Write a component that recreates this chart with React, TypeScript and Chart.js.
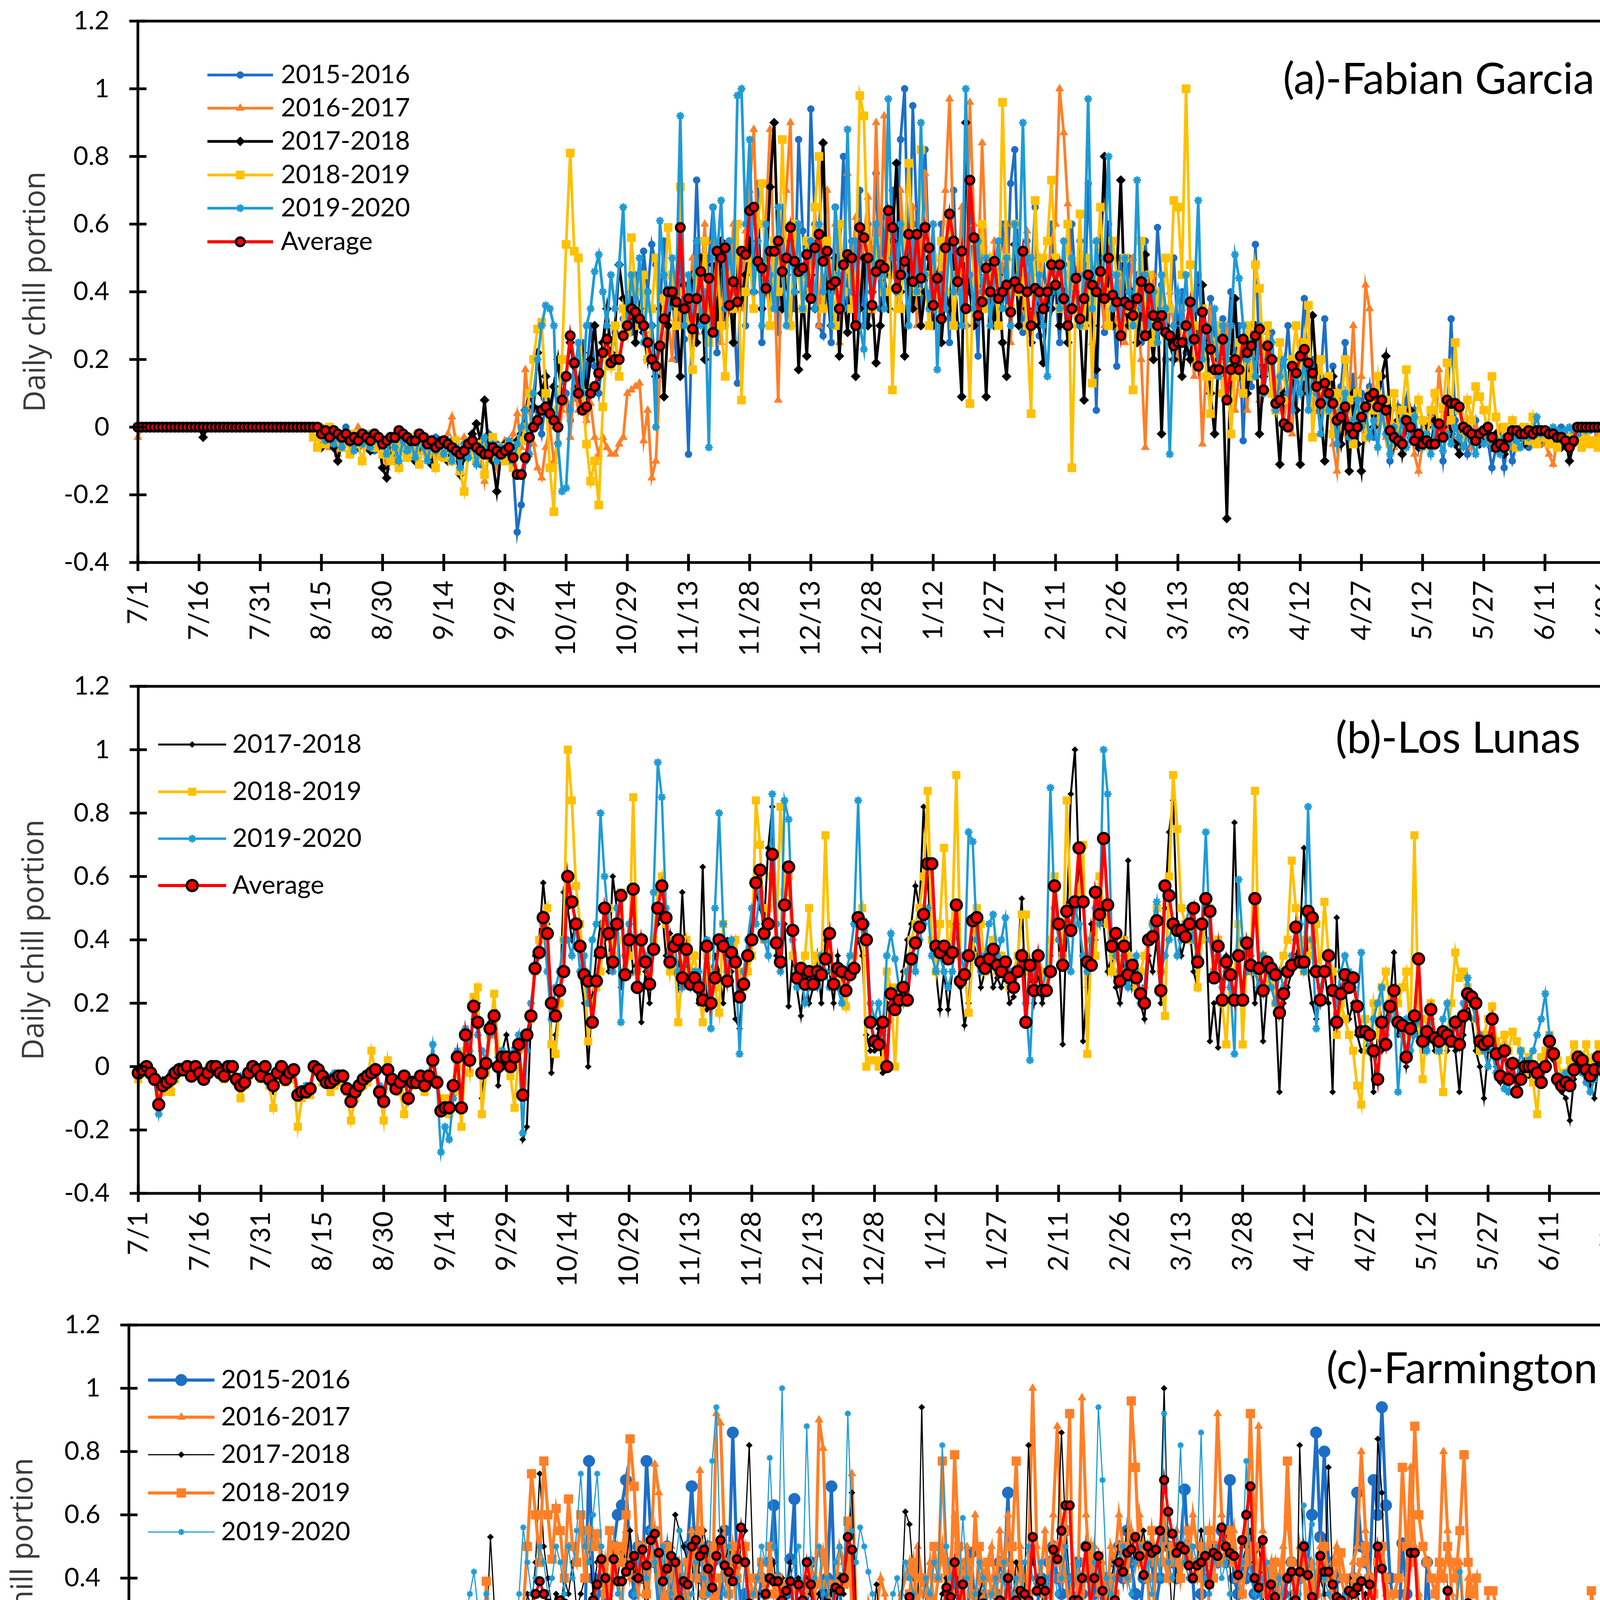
import React, { useEffect, useRef } from "react";
import { Chart, registerables } from "chart.js";
import { drawPoint } from "chart.js/helpers";

Chart.register(...registerables);

const X_TICK_VALUES = [0, 15, 30, 45, 60, 75, 90, 105, 120, 135, 150, 165, 180, 195, 210, 225, 240, 255, 270, 285, 300, 315, 330, 345, 360];
const X_TICK_LABELS = ["7/1", "7/16", "7/31", "8/15", "8/30", "9/14", "9/29", "10/14", "10/29", "11/13", "11/28", "12/13", "12/28", "1/12", "1/27", "2/11", "2/26", "3/13", "3/28", "4/12", "4/27", "5/12", "5/27", "6/11", "6/26"];
const Y_TICK_VALUES = [-0.4, -0.2, 0, 0.2, 0.4, 0.6, 0.8, 1, 1.2];

// ---------- (a) Fabian Garcia ----------
const FG_2015 = [
0,0,0,0,0,0,0,0,0,0,0,0,0,0,0, 0,0,0,0,0,0,0,0,0,0,0,0,0,0,0, 0,0,0,0,0,0,0,0,0,0,0,0,0,0,0,
0,-.02,0,-.03,-.05,-.02,0,-.04,-.06,-.03,-.05,-.02,-.04,-.07,-.03,
-.05,-.08,-.04,-.1,-.06,-.03,-.08,-.05,-.1,-.07,-.04,-.09,-.06,-.03,-.08,
-.06,-.1,-.04,-.08,-.12,-.05,-.09,-.03,-.07,-.11,-.06,-.02,-.08,-.05,-.1,
-.06,-.09,-.12,-.31,-.23,-.1,-.05,0,.05,-.02,.08,.02,.12,.05,.15,
.1,.02,.2,.08,.25,.15,.3,.18,.1,.22,.35,.2,.28,.15,.32,
.38,.28,.45,.3,.52,.4,.54,.48,.35,.55,.3,.42,.2,.5,.26,
-.08,.35,.73,.4,.28,.5,.65,.22,.45,.3,.55,.38,.13,.48,.3,
.6,.4,.72,.25,.5,.38,.55,.28,.65,.45,.6,.35,.85,.58,.4,
.94,.6,.3,.27,.45,.25,.65,.5,.8,.35,.55,.42,.7,.3,.6,
.5,.75,.35,.62,.45,.7,.5,.85,1,.4,.95,.6,.3,.82,.5,
.45,.35,.6,.48,.25,.7,.4,.55,.3,.65,.45,.21,.58,.38,.5,
.3,.45,.6,.35,.72,.82,.4,.28,.55,.42,.65,.27,.5,.35,.6,
.4,.25,.48,.35,.6,.4,.55,.3,.72,.45,.05,.5,.28,.6,.4,
.18,.5,.35,.5,.3,.45,.25,.55,.38,.3,.59,.42,.2,.35,.5,
.28,.4,.22,.35,.25,.45,.3,.2,.38,.28,.15,.32,.22,.4,.18,
.3,-.04,.25,.12,.54,.2,.1,.18,.28,.08,.2,.15,.3,.12,.05,
.2,.38,.1,.2,.05,.15,.32,.08,.18,-.02,.12,.25,.05,.15,-.05,
.1,.05,.12,-.03,.08,.15,.02,-.1,-.05,.06,0,.08,-.03,.05,-.06,
.02,-.02,.04,-.05,0,-.1,.03,.32,.02,-.04,0,-.08,-.03,.02,-.05,
-.02,-.04,-.12,-.06,-.02,-.12,-.03,-.1,-.05,-.02,-.04,-.06,-.03,-.02,-.05,
-.03,-.01,-.04,-.02,0,-.05,-.03,-.01,-.02,0,-.03,-.01,0,-.02,0,
0,0,0,0,0];

const FG_2016 = [
-.03,0,0,0,0,0,0,0,0,0,0,0,0,0,0, 0,0,0,0,0,0,0,0,0,0,0,0,0,0,0, 0,0,0,0,0,0,0,0,0,0,0,0,0,0,0,
0,-.03,-.06,-.02,-.08,-.04,-.02,-.05,-.03,0,-.04,-.06,-.02,-.05,-.03,
-.07,-.12,-.04,-.02,-.06,-.03,-.08,-.05,-.02,-.04,-.07,-.03,-.05,-.09,-.04,
-.06,-.02,.03,-.05,-.08,-.03,-.07,-.04,-.09,-.05,-.16,-.08,-.05,-.12,-.06,
-.04,-.08,-.02,.04,-.06,.17,.05,-.05,-.12,-.15,-.06,0,-.1,-.04,.05,
.08,-.03,.12,.05,.1,.02,.07,-.03,-.08,-.03,-.06,-.08,-.08,-.05,-.03,
.1,.11,.12,.13,-.04,.05,-.15,-.1,.15,.25,.32,.2,.45,.3,.4,
.35,.5,.28,.42,.6,.3,.55,.45,.25,.5,.38,.6,.45,.35,.58,
.7,.88,.5,.4,.62,.88,.45,.08,.55,.7,.9,.4,.6,.35,.55,
.45,.65,.3,.55,.7,.4,.6,.25,.5,.75,.45,.62,.35,.55,.68,
.4,.9,.5,.92,.45,.6,.35,.7,.5,.4,.65,.3,.55,.75,.45,
.6,.35,.5,.7,.97,.55,.4,.65,.3,.96,.6,.45,.84,.5,.35,
.55,.3,.48,.6,.25,.5,.4,.35,.58,.45,.3,.5,.38,.42,.55,
.6,1,.87,.66,.4,.3,.5,.35,.45,.25,.55,.4,.3,.5,.35,
.3,.45,.25,.4,.5,.35,.2,-.06,.3,.45,.28,.35,.2,.4,.3,
.2,.35,.25,.3,.15,.28,-.05,.2,.35,.15,.25,.1,.3,.2,.05,
.15,.25,.05,.3,.2,.08,.18,.28,.1,.05,.15,.02,.1,-.02,.2,
.25,.1,.15,.05,.2,-.02,.08,.12,-.05,-.13,.05,-.02,.1,.3,.05,
.15,.42,.35,.1,0,.08,-.03,.05,-.06,.02,-.04,0,.05,-.08,-.13,
-.05,0,.03,-.04,.17,.05,-.02,.03,-.05,0,-.03,.02,-.06,0,-.02,
-.04,-.01,-.05,-.03,0,-.04,-.02,-.06,-.03,0,-.02,-.04,-.01,-.03,-.02,
-.05,-.08,-.11,-.04,-.02,-.06,-.03,0,-.02,0,-.01,0,0,-.02,0,
0,0,0,0,0];

const FG_2017 = [
0,0,0,0,0,0,0,0,0,0,0,0,0,0,0, 0,-.03,0,0,0,0,0,0,0,0,0,0,0,0,0, 0,0,0,0,0,0,0,0,0,0,0,0,0,0,0,
-.06,-.02,-.03,-.06,-.1,-.04,-.02,-.05,-.03,-.06,-.04,-.03,-.07,-.05,-.04,
-.12,-.15,-.06,-.04,-.03,-.05,-.07,-.04,-.1,-.06,-.03,-.08,-.11,-.05,-.04,
-.07,-.1,-.06,-.08,-.14,-.09,-.05,-.02,.01,-.04,.08,-.06,-.1,-.19,-.08,
-.05,-.1,-.07,-.04,-.02,.05,.1,.06,.22,.1,.15,.05,.12,.2,.08,
.15,.25,.18,.12,.22,.1,.2,.3,.15,.25,.35,.22,.3,.48,.38,
.32,.4,.25,.35,.28,.2,.3,.15,.35,.09,.3,.4,.35,.15,.42,
.3,.45,.25,.5,.2,.4,.48,.3,.55,.35,.42,.25,.5,.38,.45,
.55,.4,.6,.35,.45,.71,.9,.5,.35,.45,.3,.5,.17,.4,.21,
.45,.35,.55,.84,.4,.3,.5,.21,.4,.28,.45,.15,.35,.5,.3,
.4,.19,.3,.45,.35,.55,.78,.4,.21,.5,.35,.45,.3,.4,.5,
.3,.45,.25,.4,.35,.5,.3,.09,.9,.4,.3,.45,.35,.09,.4,
.3,.45,.25,.15,.35,.54,.3,.45,.35,.25,.4,.3,.19,.4,.35,
.45,.3,.4,.25,.35,.45,.3,.08,.4,.3,.17,.5,.8,.4,.3,
.45,.73,.35,.3,.4,.25,.35,.51,.3,.2,.35,-.02,.3,.25,.2,
.3,.15,.25,.2,.35,.2,.42,.25,.1,-.02,.2,.15,-.27,.2,.38,
.15,.25,.1,.2,.3,-.02,.15,.25,.1,.05,-.11,.1,.15,.2,.05,
-.11,.2,.1,.33,.15,.05,-.1,.08,.15,.02,-.05,.05,-.13,.1,-.05,
-.13,.05,.1,0,.08,.15,.21,.05,-.05,.02,-.08,0,.05,-.03,-.06,
-.04,0,-.06,.02,-.03,0,.05,-.02,-.05,-.08,-.02,0,-.04,-.02,-.05,
-.03,0,-.06,-.02,-.04,-.08,-.03,-.01,-.04,-.02,-.05,-.03,-.01,-.04,-.02,
-.03,-.05,-.02,-.04,-.06,-.03,-.1,-.05,-.02,0,-.01,0,0,0,0,
0,0,0,0,0];

const FG_2018 = [
0,0,0,0,0,0,0,0,0,0,0,0,0,0,0, 0,0,0,0,0,0,0,0,0,0,0,0,0,0,0, 0,0,0,0,0,0,0,0,0,0,0,0,0,-.03,-.06,
-.03,-.05,0,-.02,-.04,-.06,-.03,-.08,-.02,-.05,-.1,-.04,-.02,-.06,-.03,
-.08,-.04,-.1,-.06,-.12,-.05,-.09,-.03,-.07,-.11,-.05,-.08,-.04,-.12,-.06,
-.09,-.05,-.1,-.04,-.13,-.19,-.08,-.06,-.1,-.05,-.14,-.07,-.03,-.09,-.06,
-.1,-.05,-.12,-.08,-.04,0,.1,.2,.29,.31,.1,-.12,-.25,.05,.2,
.54,.81,.52,.5,.1,-.05,-.16,-.1,-.23,.06,.25,.18,.3,.15,.35,
.28,.56,.4,.3,.45,.2,.35,.5,.25,.38,.59,.45,.3,.71,.4,
.3,.17,.45,.35,.55,.25,.4,.5,.3,.15,.45,.35,.6,.08,.4,
.5,.35,.6,.72,.45,.3,.55,.4,.85,.5,.3,.6,.45,.35,.55,
.4,.65,.8,.35,.55,.45,.3,.6,.4,.5,.35,.45,.98,.92,.5,
.35,.55,.45,.4,.6,.11,.45,.35,.55,.78,.5,.4,.82,.45,.3,
.5,.35,.55,.4,.6,.3,.45,.5,.35,.07,.55,.4,.6,.35,.5,
.45,.3,.96,.5,.35,.6,.4,.45,.3,.04,.67,.4,.5,.55,.73,
.5,.35,.45,.6,-.12,.4,.63,.3,.5,.13,.45,.65,.4,.3,.55,
.45,.3,.5,.35,.11,.4,.55,.3,.45,.25,.4,.3,.5,.35,.67,
.65,.45,1,.48,.3,.2,.35,.15,.04,.25,.3,.1,.2,-.02,.15,
.25,.1,.3,.15,.48,.41,.2,.3,.1,.05,.25,.15,.08,.2,.3,
.15,.25,.36,-.03,.1,.2,.05,.15,-.02,.1,.05,.2,.08,-.05,.1,
.05,-.03,.1,.05,.15,.02,.08,-.05,.1,0,.05,.17,.03,-.04,.08,
.02,-.05,.05,.1,-.02,.06,.19,.02,.25,.05,-.03,.08,.02,.12,.09,
.05,-.02,.15,.03,-.05,0,-.03,.02,-.06,-.02,0,-.04,.03,-.05,-.02,
-.03,-.05,-.02,-.06,-.04,-.03,-.05,-.02,-.04,-.06,-.03,-.05,-.04,-.06,-.03,
-.02,-.04,-.02,-.03,-.02];

const FG_2019 = [
0,0,0,0,0,0,0,0,0,0,0,0,0,0,0, 0,0,0,0,0,0,0,0,0,0,0,0,0,0,0, 0,0,0,0,0,0,0,0,0,0,0,0,0,0,0,
-.02,-.04,-.01,-.05,-.03,-.06,-.02,-.04,-.07,-.03,-.05,-.02,-.06,-.04,-.03,
-.05,-.08,-.03,-.06,-.1,-.04,-.07,-.05,-.09,-.03,-.06,-.1,-.04,-.07,-.05,
-.08,-.04,-.1,-.06,-.12,-.05,-.09,-.04,-.11,-.06,-.03,-.08,-.05,-.1,-.06,
-.08,-.04,-.1,-.05,0,.05,-.08,.1,.2,.3,.36,.35,.3,-.05,-.19,
-.18,.05,.15,.25,.1,.3,.35,.46,.51,.4,.3,.45,.35,.48,.65,
.3,.45,.35,.5,.25,.4,.3,0,.61,.45,.35,.5,.4,.92,.3,
.45,.35,.55,.3,.4,-.06,.65,.5,.67,.35,.55,.4,.98,1,.6,
.85,.4,.55,.3,.6,.45,.35,.65,.5,.3,.55,.4,.6,.35,.45,
.55,.35,.6,.4,.5,.3,.65,.45,.35,.88,.4,.55,.3,.23,.5,
.4,.6,.45,.35,.97,.5,.4,.6,.45,.3,.55,.4,.9,.45,.35,
.6,.17,.45,.35,.55,.4,.5,.3,1,.45,.35,.55,.4,.5,.3,
.45,.55,.35,.5,.3,.6,.45,.9,.4,.5,.35,.45,.3,.15,.4,
.45,.35,.55,.3,.5,.4,.3,.45,.97,.35,.55,.4,.5,.8,.35,
.45,.3,.5,.4,.3,.73,.35,.45,.3,.4,.25,.45,.35,-.08,.3,
.4,.3,.45,.25,.35,.67,.2,.3,.25,.35,.15,.3,.2,.3,.51,
.44,.3,.2,.25,.15,.3,.1,.2,.25,.05,.15,.2,.1,.05,.15,
.1,.2,.05,.15,.1,-.02,.12,.05,.08,-.05,.05,.1,-.03,.02,.08,
0,.05,-.03,.02,-.06,.05,-.02,-.08,0,-.04,.02,-.06,-.02,.03,-.04,
-.06,-.02,-.08,0,-.04,-.07,-.02,-.05,0,-.03,-.06,-.02,-.04,-.08,-.03,
-.05,-.02,-.06,-.04,-.08,-.03,-.05,-.01,-.04,-.06,-.02,-.03,-.01,.03,-.02,
-.01,-.02,0,-.01,-.02,-.01,0,-.01,-.02,0,-.01,0,0,0,0,
0,0,0,0,0];

const FG_AVG = [
0,0,0,0,0,0,0,0,0,0,0,0,0,0,0, 0,0,0,0,0,0,0,0,0,0,0,0,0,0,0, 0,0,0,0,0,0,0,0,0,0,0,0,0,0,0,
-.02,-.01,-.03,-.01,-.02,-.03,-.02,-.04,-.03,-.04,-.02,-.03,-.04,-.02,-.03,
-.05,-.04,-.03,-.03,-.01,-.02,-.03,-.04,-.04,-.02,-.03,-.05,-.04,-.06,-.05,
-.04,-.05,-.06,-.07,-.08,-.07,-.05,-.04,-.06,-.07,-.08,-.08,-.06,-.07,-.08,
-.07,-.06,-.09,-.14,-.14,-.09,-.03,0,.02,.05,.06,.04,.02,0,.08,
.15,.27,.19,.1,.05,.06,.1,.12,.16,.22,.26,.19,.2,.2,.27,
.3,.35,.34,.32,.3,.25,.2,.18,.24,.32,.4,.4,.37,.59,.35,
.38,.29,.38,.46,.32,.44,.28,.52,.5,.53,.36,.43,.37,.52,.51,
.64,.65,.49,.47,.41,.52,.52,.55,.46,.5,.59,.49,.46,.47,.51,
.38,.53,.57,.49,.52,.42,.43,.35,.48,.51,.5,.3,.59,.56,.5,
.36,.46,.48,.47,.64,.59,.41,.45,.49,.57,.43,.57,.44,.59,.53,
.36,.44,.32,.53,.63,.55,.43,.52,.35,.73,.56,.33,.37,.47,.4,
.49,.38,.4,.42,.34,.43,.41,.52,.4,.3,.41,.4,.35,.4,.48,
.42,.48,.38,.3,.35,.44,.32,.38,.45,.42,.4,.46,.38,.5,.39,
.37,.27,.37,.36,.33,.38,.43,.27,.41,.33,.3,.33,.28,.27,.24,
.25,.25,.3,.37,.26,.18,.34,.29,.23,.17,.17,.26,.08,.17,.2,
.17,.26,.22,.24,.27,.29,.11,.24,.2,.07,.08,.01,0,.18,.16,
.21,.23,.19,.16,.12,.07,.13,.1,.07,.02,.03,.06,0,-.02,0,
.03,.06,.09,.1,.06,.08,.05,-.01,-.03,-.04,-.05,.02,0,-.04,-.02,
-.05,-.04,-.05,-.05,.01,-.03,.08,.07,.07,.06,0,-.01,-.02,-.04,-.02,
-.01,0,-.03,-.06,-.05,-.06,-.03,-.01,-.01,-.02,-.02,-.01,-.02,-.01,-.01,
-.01,-.02,-.02,-.03,-.03,-.04,-.06,-.04,0,0,0,0,0,0,0,
0,0,0,0,0];

// ---------- (b) Los Lunas ----------
const LL_2017 = [
-.03,-.01,0,-.02,-.05,-.1,-.04,-.06,-.03,-.01,0,-.02,0,-.04,0,
-.01,-.05,-.02,0,-.01,-.03,-.04,0,0,-.05,-.07,-.04,-.02,0,0,
-.04,0,-.05,-.08,-.03,0,-.05,-.02,0,-.1,-.08,-.09,-.06,0,0,
-.04,-.06,-.04,-.05,-.02,-.04,-.08,-.1,-.06,-.07,-.03,-.02,-.03,0,-.1,
-.1,0,-.05,-.08,-.04,-.02,-.11,-.04,-.06,-.02,-.05,-.04,.03,-.06,-.1,
-.12,-.1,-.05,.05,-.1,.12,.05,.15,.2,-.1,.02,.14,.18,-.06,.05,
.1,.02,.06,.08,-.23,-.19,.15,.35,.4,.58,.45,-.02,.1,.2,.55,
.5,.4,.45,.3,.2,0,.22,.35,.45,.4,.3,.6,.5,.25,.35,
.45,.3,.35,.14,.3,.2,.4,.45,.5,.35,.42,.3,.25,.55,.3,
.25,.3,.2,.63,.18,.3,.35,.3,.2,.4,.3,.15,.12,.3,.35,
.45,.55,.5,.45,.69,.82,.35,.3,.45,.19,.35,.25,.16,.3,.2,
.25,.35,.2,.4,.3,.2,.35,.25,.2,.3,.35,.4,.35,.1,.05,
.05,.12,-.02,.2,.15,.25,.22,.3,.4,.45,.57,.5,.82,.6,.35,
.3,.18,.3,.18,.3,.45,.25,.13,.2,.4,.35,.25,.3,.35,.25,
.28,.25,.3,.2,.22,.35,.53,.2,.3,.2,.3,.2,.25,.35,.5,
.4,.07,.45,.86,1,.6,.08,.25,.45,.4,.6,.45,.3,.35,.25,
.2,.3,.65,.25,.3,.2,.15,.35,.3,.4,.2,.5,.74,.84,.45,
.35,.4,.45,.3,.25,.4,.45,.08,.2,.06,.25,.35,.3,.77,.3,
.25,.3,.4,.2,.3,.08,.25,.3,.2,-.08,.2,.25,.3,.35,.4,
.69,.3,.2,.15,.25,.3,.2,-.08,.47,.2,.25,.15,.2,.1,.05,
.05,.1,-.08,.1,.05,.15,.2,.36,.1,.12,0,.1,.15,.08,.05,
.05,.1,.05,.08,.1,.05,.1,.05,-.08,.1,.2,.15,.05,0,-.1,
.05,.1,0,-.05,.05,-.04,0,-.05,-.02,.02,-.03,0,-.05,-.03,.02,
.05,.02,-.06,-.08,-.1,-.17,-.04,0,.02,-.02,-.06,-.1,0,-.03,-.06,
-.05,-.03,-.02,.01,-.04];

const LL_2018 = [
-.04,-.02,0,-.03,-.04,-.08,-.08,-.05,-.08,-.04,-.02,0,0,-.03,0,
-.03,-.04,-.01,0,0,-.02,-.04,0,-.02,-.05,-.1,-.06,-.03,0,-.02,
-.04,0,-.06,-.13,-.04,0,-.05,-.04,-.02,-.19,-.1,-.08,-.09,0,-.02,
-.05,-.04,-.08,-.06,-.04,-.05,-.08,-.17,-.1,-.07,-.06,-.05,.05,-.02,-.08,
-.17,.02,-.05,-.06,-.08,-.15,-.1,-.06,-.04,-.05,-.08,-.05,.02,-.04,-.12,
-.1,-.15,-.08,0,-.19,.05,-.02,.22,.25,-.15,-.02,.1,.23,.05,.02,
0,-.03,-.13,.05,-.05,.1,.15,.3,.4,.45,.5,.07,.04,.2,.4,
1,.84,.57,.45,.3,.08,.2,.25,.3,.45,.5,.35,.4,.55,.3,
.35,.85,.3,.4,.35,.3,.4,.55,.6,.45,.3,.4,.14,.3,.4,
.3,.35,.25,.14,.35,.3,.25,.17,.45,.3,.35,.4,.3,.25,.3,
.35,.84,.7,.4,.5,.6,.4,.82,.55,.6,.35,.3,.3,.35,.5,
.3,.35,.3,.73,.35,.3,.3,.25,.19,.3,.35,.45,.5,0,.02,
.02,0,.02,.3,.25,0,.25,.2,.3,.4,.45,.5,.6,.87,.4,
.3,.45,.69,.35,.45,.92,.35,.3,.17,.35,.5,.45,.3,.35,.4,
.3,.35,.3,.25,.3,.35,.48,.48,.3,.25,.35,.3,.25,.4,.6,
.45,.35,.84,.5,.45,.55,.7,.04,.4,.35,.6,.5,.45,.3,.35,
.3,.4,.35,.3,.25,.3,.35,.4,.45,.5,.3,.16,.6,.92,.75,
.5,.45,.4,.5,.25,.4,.45,.5,.3,.4,.2,.07,.3,.3,.45,
.07,.35,.3,.87,.3,.35,.25,.3,.2,.3,.35,.4,.65,.5,.4,
.3,.35,.4,.45,.3,.52,.35,.3,.1,.2,.15,.1,.05,-.06,-.12,
.15,.05,.2,.1,.25,.3,.2,.15,.2,.25,.3,.1,.73,.15,-.04,
.15,.2,.1,.05,-.08,.1,.2,.36,.28,.3,.25,.2,.15,.05,.1,
.15,.19,.08,.05,.1,.05,.11,.08,.05,-.02,.03,-.05,-.15,.03,.05,
.1,.05,.02,-.03,-.02,.02,.07,.04,.02,.07,0,.03,.07,.02,-.04,
-.03,-.05,-.02,-.04,-.03];

const LL_2019 = [
-.02,-.01,0,-.01,-.05,-.15,-.06,-.04,-.02,-.01,0,0,0,-.02,0,
-.02,-.03,-.02,0,0,-.01,-.02,0,0,-.04,-.03,-.05,-.02,0,0,
-.02,0,-.03,-.05,-.02,0,-.04,-.02,-.01,-.08,-.07,-.06,-.06,0,-.01,
-.02,-.05,-.03,-.02,-.03,-.02,-.06,-.09,-.07,-.05,-.03,-.03,-.02,0,-.06,
-.07,-.02,-.04,-.07,-.04,-.03,-.09,-.05,-.04,-.03,-.06,-.03,.07,-.05,-.27,
-.19,-.23,-.1,.05,-.12,.12,.05,.18,.1,.05,.02,.1,.12,.03,.05,
.02,.04,.05,.1,-.21,.05,.2,.3,.35,.45,.3,.15,.25,.3,.4,
.4,.35,.45,.3,.35,.2,.4,.45,.8,.6,.45,.3,.5,.14,.35,
.45,.4,.3,.4,.35,.3,.55,.96,.85,.5,.35,.4,.3,.25,.35,
.25,.3,.3,.25,.4,.12,.5,.8,.45,.3,.4,.35,.04,.3,.4,
.5,.45,.55,.4,.35,.86,.45,.3,.84,.78,.4,.25,.3,.2,.25,
.3,.25,.35,.3,.25,.3,.25,.2,.3,.35,.45,.84,.4,.45,.2,
.15,.2,.1,.35,.42,.34,.25,.2,.3,.35,.3,.4,.45,.5,.35,
.3,.35,.3,.25,.3,.45,.35,.3,.74,.71,.4,.3,.35,.45,.48,
.35,.4,.47,.3,.25,.3,.35,.2,.02,.3,.35,.25,.3,.88,.5,
.4,.35,.45,.3,.5,.45,.35,.3,.4,.5,.45,1,.86,.4,.35,
.3,.35,.25,.3,.35,.2,.25,.4,.45,.52,.3,.35,.4,.45,.35,
.4,.45,.5,.4,.35,.45,.74,.4,.3,.35,.25,.3,.25,.04,.59,
.4,.3,.35,.3,.25,.35,.3,.25,.2,.3,.25,.3,.35,.4,.45,
.3,.82,.4,.12,.25,.3,.35,.25,.2,.3,.35,.3,.25,.2,.36,
.1,.05,.15,.2,.25,.1,.15,.2,-.08,.1,.15,.05,.1,.15,.1,
.05,.15,.1,.05,.15,.2,.1,.15,.1,.2,.28,.2,.15,.1,.05,
0,.05,-.02,.05,-.07,-.08,0,-.04,.05,0,.02,.05,.1,.15,.23,
.1,.05,-.03,-.05,-.02,-.04,0,.03,-.02,-.05,-.08,-.04,.01,-.02,-.06,
-.04,-.05,-.11,-.04,-.06];

const LL_AVG = [
-.02,-.01,0,-.02,-.04,-.12,-.06,-.05,-.04,-.02,-.01,-.01,0,-.03,0,
-.02,-.04,-.02,0,0,-.02,-.03,0,0,-.04,-.06,-.05,-.02,0,-.01,
-.03,0,-.04,-.06,-.02,0,-.04,-.02,-.01,-.09,-.08,-.08,-.07,0,-.01,
-.03,-.05,-.05,-.04,-.03,-.03,-.07,-.11,-.08,-.06,-.04,-.03,-.02,-.01,-.08,
-.11,-.01,-.04,-.07,-.05,-.03,-.1,-.05,-.05,-.03,-.06,-.03,.02,-.05,-.14,
-.13,-.13,-.06,.03,-.13,.1,.02,.19,.14,-.02,.01,.12,.16,0,.03,
.03,0,.03,.07,-.09,.1,.16,.31,.36,.47,.42,.2,.16,.24,.3,
.6,.52,.45,.38,.29,.27,.14,.27,.36,.5,.42,.33,.45,.54,.29,
.4,.56,.25,.4,.33,.26,.37,.5,.57,.47,.33,.38,.4,.28,.37,
.26,.28,.25,.21,.38,.2,.28,.4,.38,.27,.36,.33,.22,.26,.35,
.4,.58,.62,.42,.45,.67,.39,.33,.51,.63,.43,.28,.31,.26,.3,
.26,.3,.29,.34,.42,.26,.31,.3,.24,.29,.31,.47,.45,.4,.14,
.08,.07,.14,0,.23,.18,.21,.25,.21,.34,.39,.44,.48,.64,.64,
.38,.36,.38,.34,.36,.51,.27,.29,.35,.46,.47,.33,.31,.34,.37,
.32,.3,.33,.28,.25,.3,.35,.14,.32,.24,.35,.24,.24,.3,.57,
.45,.32,.49,.43,.52,.69,.52,.33,.32,.55,.48,.72,.51,.38,.42,
.27,.38,.29,.32,.28,.23,.2,.4,.41,.46,.24,.57,.54,.45,.43,
.43,.41,.45,.5,.33,.45,.53,.49,.28,.38,.21,.33,.29,.21,.35,
.21,.39,.32,.53,.31,.24,.33,.31,.29,.17,.23,.3,.32,.44,.33,
.33,.49,.47,.3,.21,.3,.35,.24,.14,.23,.29,.25,.28,.19,.11,
.11,.1,.05,-.04,.14,.07,.19,.24,.14,.13,.03,.12,.16,.34,.08,
.11,.18,.09,.08,.11,.1,.08,.14,.07,.16,.23,.22,.2,.08,.07,
.08,.15,.04,-.03,.05,-.04,.01,-.08,-.04,0,0,0,-.02,-.05,0,
.08,.04,-.04,-.06,-.05,-.06,-.01,.03,.02,-.01,-.03,-.01,.03,-.01,-.05,
-.04,-.03,-.03,-.03,-.04];

// ---------- (c) Farmington ----------
const FA_2015 = [
-.02,-.1,-.08,-.05,-.12,-.1,-.06,-.08,-.03,-.07,-.1,-.05,-.04,-.08,.04,
-.06,-.12,-.03,-.08,-.05,-.1,-.04,-.07,-.09,-.05,-.11,-.06,-.08,-.1,-.21,
-.12,-.08,-.05,-.1,-.06,-.09,-.04,-.07,-.05,-.1,-.06,-.08,-.12,-.13,-.07,
-.05,-.09,-.06,-.1,-.04,-.08,-.11,-.07,-.05,-.1,-.18,-.09,-.12,-.06,-.16,
-.1,-.07,-.12,-.17,-.08,-.25,-.1,-.06,-.05,-.02,.09,.09,.05,-.05,-.12,
-.08,.02,.13,.05,-.06,-.1,0,-.08,-.21,-.05,.02,-.06,.05,-.1,-.08,
-.05,-.14,-.1,-.04,-.08,-.05,.12,.2,.25,.15,.11,.08,.21,.15,.1,
.05,-.12,.06,.15,.11,.2,.25,.77,.4,.3,.45,.35,.25,.5,.6,
.63,.71,.45,.35,.5,.4,.77,.55,.45,.3,.4,.5,.35,.45,.4,
.3,.5,.69,.45,.4,.35,.5,.45,.35,.29,.55,.4,.86,.45,.3,
.35,0,.2,.3,.4,.35,.45,.63,.4,.3,.35,.46,.65,0,0,
.3,.45,0,0,.35,.4,.69,.3,.4,.15,.08,0,0,.05,.1,
0,0,.03,0,0,0,0,0,.05,.1,.2,0,0,0,0,
0,0,.15,.3,.2,.25,.4,.3,.2,.25,.48,.3,.35,.4,.3,
.2,.35,.45,.4,.67,.21,0,0,0,.06,.2,.3,.4,.35,.45,
.5,.4,.35,.55,.3,.4,.45,.35,.5,.4,.35,.45,.29,.4,.35,
.45,.5,.4,.55,.45,.35,.27,.4,.5,.45,.31,.4,.55,.5,.45,
.4,.5,.68,.45,.4,.17,.35,.45,.4,.5,.45,.55,.45,.71,.4,
.35,.45,.4,.5,.35,.4,.3,.15,.35,.4,.3,.35,.4,.45,.35,
.4,.5,.45,.6,.86,.53,.8,.45,.35,.4,.09,.02,.3,.4,.67,
.5,.45,.4,.71,.6,.94,.63,.4,.3,.2,.51,.35,.25,.3,.2,
.15,.45,.2,.1,-.12,.05,.15,.1,.2,.11,.25,0,.15,.2,.1,
.3,.15,.1,.05,-.05,.15,-.06,-.08,-.04,-.1,-.05,-.08,-.03,-.06,-.02,
-.05,-.08,-.14,-.06,.09,-.04,-.15,-.08,-.03,-.06,-.04,-.02,-.05,-.03,-.04,
-.06,.01,-.02,.01,-.03];

const FA_2016 = [
-.05,-.21,-.15,-.1,-.06,-.08,-.12,-.05,-.03,-.07,-.04,-.08,-.05,-.02,-.06,
-.03,-.08,-.05,-.1,-.04,-.07,-.03,-.06,-.09,-.04,-.07,-.05,-.08,-.04,-.06,
-.09,-.05,-.03,-.07,-.04,-.19,-.08,-.05,-.03,-.06,-.04,-.08,-.05,-.02,-.06,
-.04,-.07,-.03,-.08,-.05,-.1,-.06,-.04,-.14,-.08,-.05,-.03,-.07,-.04,-.06,
-.05,-.08,-.03,-.06,-.04,-.07,-.05,-.03,-.08,-.04,-.06,-.02,-.05,-.03,-.07,
-.04,-.06,-.02,-.08,-.16,-.05,-.03,-.07,-.04,-.1,-.05,-.08,-.03,-.06,-.09,
-.05,-.07,-.04,-.08,-.05,-.06,0,0,0,0,0,0,0,0,0,
0,0,0,0,0,0,0,0,0,.15,.3,.45,.35,.5,.4,
.3,.55,.4,.45,.35,.5,.3,.45,.76,.67,.4,.3,.5,.35,.45,
.4,.3,.55,.45,.74,.35,.4,.3,.92,.89,.5,.35,.45,.3,.2,
.1,0,0,0,0,.05,.2,.3,.35,.04,.3,.25,0,.15,.3,
.35,.45,.3,.9,.81,.4,.3,.35,.5,.45,.4,.73,.3,.26,.2,
.32,.25,.3,.4,.35,.2,.15,.3,.35,.4,.45,.3,.5,.4,.35,
.45,.3,.4,.5,.35,.45,.6,.4,.3,.5,.35,.6,.4,.3,.45,
.5,.35,.55,.4,.6,.45,.35,.5,.3,.45,1,.5,.4,.55,.35,
.6,.88,.5,.4,.3,.45,.35,.97,.6,.4,.5,.35,.45,.3,.5,
.45,.6,.5,.4,.55,.45,.6,.5,.4,.2,.45,.5,.6,.45,.5,
.55,.4,.5,.45,.6,.5,.45,0,.4,.5,.92,.6,.5,.45,.55,
.4,.5,.6,.45,.5,.88,.55,.4,.45,.17,.4,.5,.6,.45,.35,
.5,.4,.35,.45,.4,.5,.35,.15,.45,.5,.4,.35,.3,.45,.5,
.8,.55,.4,.3,.5,.45,.35,.2,-.09,.1,.3,.4,.75,.5,.35,
.3,.2,.25,.15,.45,.8,.55,.35,.3,.45,.25,.4,-.09,.2,.15,
.1,.05,0,-.05,-.03,-.08,-.05,-.1,-.07,-.04,-.08,-.06,-.05,-.03,-.06,
-.04,.19,.05,-.08,-.05,-.1,-.06,-.03,-.08,-.05,-.1,-.04,-.07,-.05,-.08,
-.05,-.07,-.04,-.06,-.08];

const FA_2017 = [
-.02,-.08,-.05,-.03,.02,-.06,-.04,-.08,-.03,-.05,-.02,-.06,-.04,-.01,-.05,
.01,-.03,-.05,-.02,-.04,-.06,-.03,-.01,-.05,-.07,-.02,-.04,-.06,-.03,-.05,
-.08,-.04,-.02,-.05,-.07,-.03,-.06,-.02,-.04,-.01,-.03,-.05,-.07,-.1,-.04,
.06,-.02,-.05,-.03,-.06,-.04,-.02,-.05,-.08,-.04,-.06,-.03,-.05,.02,-.04,
-.01,-.05,-.02,.03,-.06,-.04,.02,-.05,-.03,-.06,-.02,-.04,.04,.1,-.03,
-.06,-.02,.05,.1,.03,.08,.15,.25,.05,.2,.3,.25,.2,.53,.3,
.15,.08,.2,.25,.15,-.08,.2,.35,.3,.45,.73,.5,.4,.3,.35,
.3,.4,.35,.45,.3,.35,.4,.5,.35,.45,.5,.4,.55,.45,.4,
.5,.45,.55,.4,.5,.45,.25,.5,.55,.45,.4,.5,.45,.6,.55,
.5,.45,.5,.17,.5,.55,.45,.4,.5,.55,.45,.5,.45,.4,.5,
.55,.82,.4,.35,.3,.35,.4,.45,.3,.4,.35,.45,.3,.4,.35,
.4,.35,.3,.35,.3,.4,.35,.3,.4,.35,.5,.67,.3,.25,.2,
.3,.25,.38,.2,.15,.1,.2,.25,.3,.61,.57,.4,.3,.94,.3,
.25,.2,.3,.35,.4,.3,.35,.4,.45,0,.3,.25,.35,.4,.3,
.25,.35,.3,.4,.35,.3,.45,.4,.35,.82,.45,.4,.35,.3,.4,
.45,.5,.86,.55,.4,.35,.3,.4,.45,.35,.4,.45,.35,.3,.4,
.45,.5,.45,.55,.5,.45,.5,.55,.45,.5,.45,.55,1,.5,.27,
.45,.5,.45,.4,.5,.45,.55,.45,.4,.5,.45,.5,.55,.45,.17,
.4,.45,.5,.55,.45,.5,.4,.02,.3,-.08,.25,.06,.3,.35,0,
.82,.45,.4,.35,.3,.4,.35,.75,.4,.35,.3,.35,.4,.3,.35,
.3,.35,.04,.3,.84,.67,.3,.25,.2,.15,.1,.2,.06,.15,-.06,
.1,.15,.2,.1,.05,.15,.1,-.06,.15,.17,.1,.05,.15,0,.05,
.1,.05,0,-.05,-.04,-.08,-.05,-.1,-.06,-.04,-.08,-.05,-.07,-.03,-.06,
-.04,-.02,-.06,-.03,-.05,-.16,-.08,-.04,-.06,-.03,-.05,-.02,-.04,-.06,-.03,
-.05,-.02,-.04,-.06,-.08];

const FA_2018 = [
-.05,-.12,-.08,-.1,-.06,-.09,-.05,-.07,-.04,-.08,-.06,-.1,-.05,-.03,-.07,
-.04,-.09,-.06,-.03,-.08,-.05,-.1,-.06,-.04,-.08,-.05,-.07,-.12,-.06,-.04,
-.08,-.05,-.03,-.07,-.05,-.09,-.06,-.04,-.08,-.05,-.03,-.06,-.09,-.05,-.07,
-.05,-.03,-.07,-.05,-.08,-.04,-.06,-.1,-.05,-.07,-.04,-.06,-.09,-.05,-.03,
-.06,-.08,-.04,.15,-.07,-.05,-.09,-.06,-.04,-.08,-.06,-.1,-.05,-.07,-.04,
-.08,-.05,-.03,-.1,-.16,-.06,-.08,-.04,-.12,-.06,-.03,-.08,.39,.2,-.05,
-.08,-.1,-.05,.05,-.06,.1,.3,.5,.73,.6,.45,.77,.6,.46,.62,
.55,.4,.65,.5,.45,.6,.4,.55,.5,.54,.45,.35,.55,.4,.5,
.45,.6,.84,.69,.4,.5,.35,.45,.55,.4,.3,.5,.4,.35,.02,
.3,.45,.5,.4,.55,.35,.45,.5,.3,.4,.45,.35,.5,.4,.45,
.5,.4,.35,.4,.45,.3,.5,.35,.4,.38,.04,.3,.38,.38,.38,
.38,.38,.38,.38,.48,.38,.38,.38,.38,.38,.58,.3,.2,.15,.1,
.05,.3,0,0,0,0,0,0,.3,.2,.35,.45,.3,.4,.35,
.3,.5,.4,.77,.45,.35,.79,.5,.4,.45,.35,.3,.5,.4,.45,
.35,.4,.3,.45,.35,.5,.77,.4,.3,.35,0,0,0,.35,.04,
.45,.5,.4,.55,.92,.17,.4,.3,.45,.5,0,0,0,.06,.4,
.35,.45,.5,.4,.96,.75,.45,.5,.4,.55,.45,.5,.45,.4,.5,
.45,.4,.5,.55,.45,.4,.5,.45,.55,.4,.5,.45,.5,.55,.45,
.4,.35,.45,.92,.5,.4,.45,.35,.4,.45,.3,.4,.77,.45,.35,
.4,.45,.13,.4,.35,.45,.5,.4,.35,.45,.48,.4,.35,.11,.4,
.45,.5,.4,.35,.45,.5,.4,.3,.35,.4,.75,.5,.45,.88,.6,
.5,.45,.4,.35,.45,.4,.5,.45,.4,.55,.79,.45,.35,.4,.01,
.2,.36,.36,.3,.15,.08,.05,-.05,-.1,.13,-.15,-.08,-.04,-.06,-.03,
-.05,-.02,-.08,-.06,-.04,-.07,-.1,-.05,-.08,-.14,-.06,.36,.25,-.13,-.05,
-.08,-.04,-.06,-.03,-.05];

const FA_2019 = [
-.03,-.06,-.02,-.05,-.08,-.1,-.16,.04,.09,.06,-.02,-.05,-.03,-.07,-.04,
-.02,-.06,-.04,-.08,-.03,-.05,-.02,-.07,-.04,-.06,-.03,-.08,-.05,-.02,-.06,
-.04,-.07,-.03,-.05,-.08,-.04,-.06,-.02,-.05,-.1,-.04,-.06,-.03,-.08,-.05,
-.04,-.06,-.03,-.08,-.05,-.1,-.04,-.06,-.12,-.05,-.03,-.07,-.04,-.06,-.08,
-.05,-.03,-.07,-.04,-.06,-.02,-.08,-.05,-.03,-.06,-.04,.05,.2,.3,-.1,
-.27,-.05,.1,.05,-.02,.2,.15,.29,.35,.42,.3,.2,.35,.3,.25,
.15,.2,.1,.05,.2,.35,.56,.45,.35,.4,.5,.45,.35,.4,.5,
.45,.35,.5,.4,.55,.73,.5,.45,.6,.73,.5,.4,.3,.45,.35,
.4,0,.3,.35,.45,.5,.4,.55,.45,.3,.5,.4,.35,.45,.55,
.4,.3,.35,.45,.5,.4,.35,.77,.94,.45,.35,.5,0,.4,.3,
.45,0,.35,.4,.5,.45,.78,.5,.4,1,.35,.4,.45,.5,.35,
.88,.45,.4,.5,.35,.4,.3,.45,.5,.4,.92,.55,.45,.56,.5,
.42,.35,.2,.15,.3,.25,.35,.4,.3,.45,.4,.35,.25,.3,.4,
.35,.45,.4,.82,.5,.4,.45,.35,.59,.4,.3,.35,.45,.4,.3,
.35,.4,.3,.45,0,.35,.4,.3,.45,.5,.4,.35,.45,.3,.4,
.45,.35,.4,.5,.4,.35,.45,.4,.5,.35,.45,.94,.71,.4,.35,
.4,.45,.5,.4,.35,.45,.5,.4,.45,.35,.5,.4,.92,.45,.4,
.5,.82,.45,.4,.5,.45,.86,.4,.35,.45,.5,.4,.45,.35,.04,
.4,.45,.77,.4,.35,.3,.4,.45,.35,.3,.4,.35,.3,.4,.35,
.3,.63,.4,.57,.35,.3,.4,.35,.3,.25,.3,.35,.3,.25,.2,
.3,.25,.2,.3,.25,0,.2,.15,.25,0,.2,.15,.25,.2,.15,
.2,.15,.25,.2,.15,.2,.25,.2,.3,.42,.25,.2,.15,.1,.2,
.15,0,.1,.05,-.05,-.16,-.08,-.05,-.1,-.06,-.03,-.08,-.05,.26,-.04,
-.06,-.03,-.08,-.05,-.1,-.04,-.06,-.02,-.08,-.05,-.03,-.06,-.04,-.07,-.05,
-.08,-.05,-.1,-.12,-.06];

const FA_AVG = [
-.03,-.07,-.05,-.06,-.08,-.09,-.07,-.05,-.01,-.04,-.05,-.03,-.03,-.02,-.03,
0,-.04,-.02,0,-.02,-.04,-.03,-.02,-.03,-.05,-.03,-.04,-.07,-.05,-.06,
-.07,-.08,-.02,-.04,-.07,-.05,-.04,-.04,-.03,-.02,-.02,-.01,-.08,-.08,-.06,
-.03,-.02,-.04,-.05,-.07,-.04,-.04,-.07,-.09,-.07,-.06,-.04,-.06,-.03,-.03,
-.02,-.06,-.04,-.01,-.08,-.06,-.04,-.04,-.04,-.05,-.06,-.05,-.05,.06,-.05,
-.05,-.08,-.03,.02,-.02,.04,.11,.06,-.02,.12,.07,.11,.1,.21,.11,
.03,.03,.04,.04,.12,-.04,.14,.29,.31,.35,.39,.35,.32,.27,.28,
.33,.32,.28,.27,.28,.26,.23,.31,.33,.38,.46,.4,.28,.46,.39,
.39,.42,.44,.47,.4,.49,.44,.52,.54,.48,.39,.43,.47,.45,.33,
.39,.38,.5,.52,.47,.49,.43,.37,.47,.52,.44,.42,.39,.46,.56,
.45,.32,.27,.29,.3,.35,.4,.39,.39,.33,.36,.39,.29,.38,.33,
.45,.38,.3,.31,.27,.32,.28,.37,.36,.4,.53,.49,.19,.18,.1,
.11,.12,.13,.07,.15,.11,.16,.21,.27,.31,.34,.22,.17,.26,.2,
.19,.21,.2,.28,.37,.34,.45,.31,.38,.27,.21,.27,.31,.32,.27,
.24,.31,.33,.29,.4,.26,.33,.36,.35,.33,.53,.36,.39,.36,.24,
.49,.46,.55,.63,.63,.33,.33,.4,.5,.31,.4,.47,.36,.23,.3,
.33,.45,.42,.48,.49,.53,.47,.41,.5,.48,.49,.55,.71,.61,.54,
.48,.5,.49,.44,.4,.44,.45,.47,.38,.48,.47,.56,.5,.48,.47,
.41,.52,.6,.69,.4,.37,.52,.31,.38,.34,.28,.3,.4,.42,.33,
.42,.5,.41,.34,.3,.47,.42,.42,.38,.34,.33,.22,.36,.35,.37,
.39,.26,.38,.3,.5,.43,.3,.25,.18,.11,.1,.28,.48,.48,.25,
.2,.19,.16,.15,.15,.26,.36,.26,.26,.25,.28,.32,.2,.16,.13,
.19,.17,.13,.07,.04,.03,-.04,-.05,-.05,-.05,-.04,-.04,-.03,-.02,.02,
0,.02,.02,-.02,0,-.03,-.05,0,-.02,-.02,-.03,.04,.01,-.02,-.02,
-.07,-.02,-.05,-.04,-.05];

// ---------- styling ----------
const C_BLUE = "#1D6FC6";
const C_ORANGE = "#FF7F27";
const C_BLACK = "#000000";
const C_YELLOW = "#FFC000";
const C_LBLUE = "#1E9BD7";
const C_RED = "#FF0000";
const HIDDEN = "rgba(0,0,0,0)";

type Series = {
  label: string; data: number[]; color: string; lw: number; ps: string; r: number;
  bg: string; bc: string; bw: number; order: number; legend: boolean;
};

type PanelCfg = {
  top: number; h: number; left: number; right: number; plotTop: number; bottom: number; xMax: number;
  yTitlePad: number; title: string; titleRight: number; titleY: number;
  lx1: number; lx2: number; tx: number; ly: number[]; series: Series[];
};

const PAGE_W = 4240;
const PAGE_H = 4948;

const PANELS: PanelCfg[] = [
  {
    top: 0, h: 1710, left: 353, right: 4190, plotTop: 54, bottom: 1440, xMax: 367.5, yTitlePad: 48,
    title: "(a)-Fabian Garcia", titleRight: 4082, titleY: 205,
    lx1: 531, lx2: 699, tx: 719, ly: [192, 277, 362, 448, 533, 619],
    series: [
      { label: "2015-2016", data: FG_2015, color: C_BLUE, lw: 7, ps: "circle", r: 9, bg: C_BLUE, bc: C_BLUE, bw: 1, order: 6, legend: true },
      { label: "2016-2017", data: FG_2016, color: C_ORANGE, lw: 7, ps: "triangle", r: 12, bg: C_ORANGE, bc: C_ORANGE, bw: 1, order: 5, legend: true },
      { label: "2017-2018", data: FG_2017, color: C_BLACK, lw: 7, ps: "rectRot", r: 12, bg: C_BLACK, bc: C_BLACK, bw: 1, order: 4, legend: true },
      { label: "2018-2019", data: FG_2018, color: C_YELLOW, lw: 7, ps: "rect", r: 15, bg: C_YELLOW, bc: C_YELLOW, bw: 1, order: 3, legend: true },
      { label: "2019-2020", data: FG_2019, color: C_LBLUE, lw: 7, ps: "star", r: 10, bg: C_LBLUE, bc: C_LBLUE, bw: 5, order: 2, legend: true },
      { label: "Average", data: FG_AVG, color: C_RED, lw: 8, ps: "circle", r: 11, bg: C_RED, bc: C_BLACK, bw: 6, order: 1, legend: true },
    ],
  },
  {
    top: 1660, h: 1710, left: 354, right: 4200, plotTop: 1757, bottom: 3055, xMax: 367.3, yTitlePad: 44,
    title: "(b)-Los Lunas", titleRight: 4046, titleY: 1892,
    lx1: 405, lx2: 579, tx: 595, ly: [1906, 2027, 2147, 2267],
    series: [
      { label: "2017-2018", data: LL_2017, color: C_BLACK, lw: 5, ps: "rectRot", r: 8, bg: C_BLACK, bc: C_BLACK, bw: 1, order: 4, legend: true },
      { label: "2018-2019", data: LL_2018, color: C_YELLOW, lw: 7, ps: "rect", r: 14, bg: C_YELLOW, bc: C_YELLOW, bw: 1, order: 3, legend: true },
      { label: "2019-2020", data: LL_2019, color: C_LBLUE, lw: 6, ps: "star", r: 10, bg: C_LBLUE, bc: C_LBLUE, bw: 5, order: 2, legend: true },
      { label: "Average", data: LL_AVG, color: C_RED, lw: 8, ps: "circle", r: 14, bg: C_RED, bc: C_BLACK, bw: 6, order: 1, legend: true },
    ],
  },
  {
    top: 3320, h: 1628, left: 330, right: 4198, plotTop: 3392, bottom: 4688, xMax: 367.8, yTitlePad: 16,
    title: "(c)-Farmington", titleRight: 4090, titleY: 3506,
    lx1: 379, lx2: 549, tx: 566, ly: [3533, 3628, 3724, 3822, 3922],
    series: [
      { label: "2015-2016", data: FA_2015, color: C_BLUE, lw: 8, ps: "circle", r: 15, bg: C_BLUE, bc: C_BLUE, bw: 1, order: 6, legend: true },
      { label: "2016-2017", data: FA_2016, color: C_ORANGE, lw: 8, ps: "triangle", r: 12, bg: C_ORANGE, bc: C_ORANGE, bw: 1, order: 5, legend: true },
      { label: "2017-2018", data: FA_2017, color: C_BLACK, lw: 3, ps: "rectRot", r: 8, bg: C_BLACK, bc: C_BLACK, bw: 1, order: 4, legend: true },
      { label: "2018-2019", data: FA_2018, color: C_ORANGE, lw: 8, ps: "rect", r: 16, bg: C_ORANGE, bc: C_ORANGE, bw: 1, order: 3, legend: true },
      { label: "2019-2020", data: FA_2019, color: C_LBLUE, lw: 3, ps: "star", r: 8, bg: C_LBLUE, bc: C_LBLUE, bw: 4, order: 2, legend: true },
      { label: "Average", data: FA_AVG, color: C_RED, lw: 7, ps: "circle", r: 10, bg: C_RED, bc: C_BLACK, bw: 6, order: 1, legend: false },
    ],
  },
];

function fmtY(v: number) {
  const r = Math.round(v * 10) / 10;
  return String(r === 0 ? 0 : r);
}

function makeOverlay(p: PanelCfg) {
  return {
    id: "panelOverlay",
    afterDraw(chart: any) {
      const ctx: CanvasRenderingContext2D = chart.ctx;
      const a = chart.chartArea;
      const sx = chart.scales.x;
      const sy = chart.scales.y;
      ctx.save();
      ctx.strokeStyle = "#000";
      ctx.lineWidth = 7;
      ctx.strokeRect(a.left, a.top, a.right - a.left, a.bottom - a.top);
      ctx.beginPath();
      Y_TICK_VALUES.forEach((v) => {
        const y = sy.getPixelForValue(v);
        ctx.moveTo(a.left - 22, y);
        ctx.lineTo(a.left + 22, y);
      });
      X_TICK_VALUES.forEach((v) => {
        const x = sx.getPixelForValue(v);
        ctx.moveTo(x, a.bottom - 22);
        ctx.lineTo(x, a.bottom + 22);
      });
      ctx.stroke();

      const items = p.series.filter((s) => s.legend);
      items.forEach((s, i) => {
        const y = p.ly[i] - p.top;
        ctx.strokeStyle = s.color;
        ctx.lineWidth = s.lw;
        ctx.beginPath();
        ctx.moveTo(p.lx1, y);
        ctx.lineTo(p.lx2, y);
        ctx.stroke();
        ctx.fillStyle = s.bg;
        ctx.strokeStyle = s.bc;
        ctx.lineWidth = s.bw;
        drawPoint(ctx, { pointStyle: s.ps, radius: s.r, borderWidth: s.bw, rotation: 0 } as any, (p.lx1 + p.lx2) / 2, y);
        ctx.fillStyle = "#000";
        ctx.font = "66px Lato";
        ctx.textAlign = "left";
        ctx.textBaseline = "middle";
        ctx.fillText(s.label, p.tx, y);
      });

      ctx.font = "110px Lato";
      ctx.fillStyle = "#000";
      ctx.textAlign = "right";
      ctx.textBaseline = "middle";
      ctx.fillText(p.title, p.titleRight, p.titleY - p.top);
      ctx.restore();
    },
  };
}

function Panel({ p }: { p: PanelCfg }) {
  const ref = useRef<HTMLCanvasElement>(null);
  useEffect(() => {
    const canvas = ref.current;
    if (!canvas) return;
    const chart = new Chart(canvas, {
      type: "line",
      data: {
        datasets: p.series.map((s) => ({
          label: s.label,
          data: s.data.map((y, i) => ({ x: i, y })),
          borderColor: s.color,
          backgroundColor: s.bg,
          borderWidth: s.lw,
          pointStyle: s.ps,
          pointRadius: s.r,
          pointBackgroundColor: s.bg,
          pointBorderColor: s.bc,
          pointBorderWidth: s.bw,
          tension: 0,
          fill: false,
          order: s.order,
          clip: false,
        })),
      },
      options: {
        animation: false,
        responsive: false,
        devicePixelRatio: 1,
        events: [],
        layout: { padding: { top: p.plotTop - p.top, right: PAGE_W - p.right, bottom: 0, left: 0 } },
        plugins: { legend: { display: false }, tooltip: { enabled: false }, title: { display: false } },
        scales: {
          x: {
            type: "linear",
            min: 0,
            max: p.xMax,
            afterBuildTicks: (s: any) => { s.ticks = X_TICK_VALUES.map((v) => ({ value: v })); },
            afterFit: (s: any) => { s.height = p.top + p.h - p.bottom; },
            grid: { display: true, drawOnChartArea: false, drawTicks: true, tickLength: 46, color: HIDDEN },
            border: { display: false },
            ticks: {
              autoSkip: false,
              minRotation: 90,
              maxRotation: 90,
              padding: 0,
              color: "#000",
              font: { family: "Lato", size: 70 },
              callback: (v: any) => {
                const k = X_TICK_VALUES.indexOf(Math.round(Number(v)));
                return k >= 0 ? X_TICK_LABELS[k] : "";
              },
            },
          },
          y: {
            type: "linear",
            min: -0.4,
            max: 1.2,
            afterBuildTicks: (s: any) => { s.ticks = Y_TICK_VALUES.map((v) => ({ value: v })); },
            afterFit: (s: any) => { s.width = p.left; },
            grid: { display: true, drawOnChartArea: false, drawTicks: true, tickLength: 73, color: HIDDEN },
            border: { display: false },
            ticks: { padding: 0, color: "#000", font: { family: "Lato", size: 66 }, callback: (v: any) => fmtY(Number(v)) },
            title: {
              display: true,
              text: "Daily chill portion",
              color: "#3a3a3a",
              font: { family: "Open Sans", size: 76 },
              padding: { top: p.yTitlePad, bottom: 0 },
            },
          },
        },
      },
      plugins: [makeOverlay(p)],
    } as any);
    return () => chart.destroy();
  }, [p]);
  return (
    <canvas
      ref={ref}
      width={PAGE_W}
      height={p.h}
      style={{ position: "absolute", left: 0, top: p.top, width: PAGE_W, height: p.h, display: "block" }}
    />
  );
}

export default function App() {
  return (
    <div style={{ position: "absolute", left: 0, top: 0, width: PAGE_W, height: PAGE_H, background: "#fff", overflow: "hidden" }}>
      {PANELS.map((p, i) => (
        <Panel key={i} p={p} />
      ))}
    </div>
  );
}
